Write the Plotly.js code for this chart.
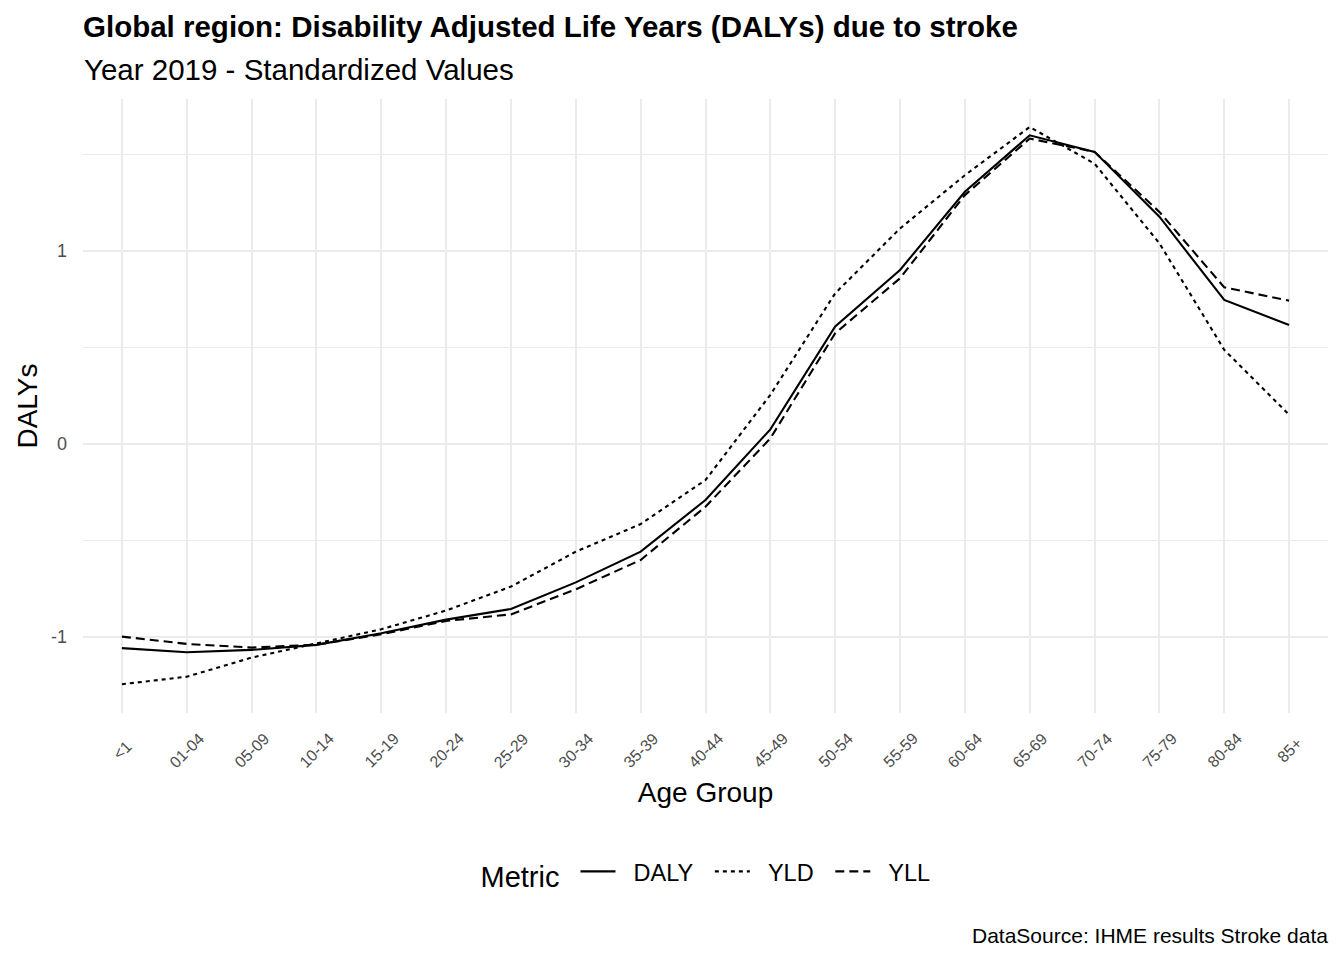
<!DOCTYPE html>
<html>
<head>
<meta charset="utf-8">
<script src="https://cdn.plot.ly/plotly-3.0.1.min.js"></script>
<style>html,body{margin:0;padding:0;background:#fff;}</style>
</head>
<body>
<div id="chart" style="width:1344px;height:960px;"></div>
<script>
const ageGroups = ["<1","01-04","05-09","10-14","15-19","20-24","25-29","30-34","35-39","40-44","45-49","50-54","55-59","60-64","65-69","70-74","75-79","80-84","85+"];
const daly = [-1.058,-1.079,-1.067,-1.041,-0.981,-0.910,-0.855,-0.717,-0.558,-0.290,0.076,0.609,0.902,1.307,1.600,1.514,1.178,0.747,0.617];
const yld  = [-1.245,-1.206,-1.107,-1.035,-0.960,-0.863,-0.739,-0.558,-0.415,-0.187,0.255,0.781,1.117,1.393,1.643,1.453,1.040,0.488,0.152];
const yll  = [-0.998,-1.036,-1.055,-1.040,-0.986,-0.917,-0.883,-0.753,-0.601,-0.325,0.029,0.574,0.859,1.290,1.583,1.514,1.203,0.812,0.743];
const metricNames = ["DALY", "YLD", "YLL"];
const yTicks = [-1,0,1];
const yTickText = ["-1","0","1"];

const FONT = "Liberation Sans, Arial, Helvetica, sans-serif";
const NB = "\u00A0";
const legendName = (n) => NB + NB + n + '<span style="font-size:21px">' + NB + NB + '</span>';
const mk = (name, y, dash) => ({
  type: "scatter", mode: "lines", name: legendName(name), x: ageGroups, y: y,
  line: {color: "#000000", width: 2.1, dash: dash}
});
const data = [mk(metricNames[0], daly, "solid"), mk(metricNames[1], yld, "4px,4px"), mk(metricNames[2], yll, "9px,5px")];

const tickAnnotations = ageGroups.map(g => ({
  text: g, x: g, xref: "x", y: 0, yref: "paper", yshift: -37,
  xanchor: "center", yanchor: "middle", textangle: -45, showarrow: false,
  font: {size: 16, color: "#4D4D4D", family: FONT}
}));

const layout = {
  width: 1344, height: 960, autosize: false,
  paper_bgcolor: "#ffffff", plot_bgcolor: "#ffffff",
  margin: {l: 83, r: 16, t: 99, b: 247},
  font: {family: FONT, color: "#000000"},
  title: {text: "<b>Global region: Disability Adjusted Life Years (DALYs) due to stroke</b>",
    x: 0, xref: "paper", xanchor: "left", y: 0.972, yref: "container", yanchor: "middle",
    font: {size: 29.5, family: FONT, color: "#000"}},
  xaxis: {type: "category", range: [-0.6, 18.6], showticklabels: false,
    showgrid: true, gridcolor: "#EBEBEB", gridwidth: 2, zeroline: false, showline: false,
    ticks: "",
    title: {text: "Age Group", font: {size: 28, color: "#000", family: FONT}, standoff: 69}},
  yaxis: {range: [-1.394, 1.788], tickvals: yTicks, ticktext: yTickText,
    tickfont: {size: 18, color: "#4D4D4D", family: FONT},
    showgrid: true, gridcolor: "#EBEBEB", gridwidth: 2, zeroline: false, showline: false,
    ticks: "", ticklabelstandoff: 15,
    minor: {tickvals: [-0.5, 0.5, 1.5], showgrid: true, gridcolor: "#EBEBEB", gridwidth: 1},
    title: {text: "DALYs", font: {size: 28, color: "#000", family: FONT}, standoff: 5}},
  showlegend: true,
  legend: {orientation: "h", x: 0.506, xanchor: "center", xref: "paper", y: 0.09, yref: "container", yanchor: "middle",
    title: {text: "Metric ", font: {size: 29, family: FONT, color: "#000"}, side: "left"},
    font: {size: 23.5, family: FONT, color: "#000"}, itemwidth: 35, tracegroupgap: 0},
  annotations: tickAnnotations.concat([
    {text: "Year 2019 - Standardized Values", xref: "paper", x: 0, xshift: -1, yref: "paper", y: 1, yshift: 30,
     xanchor: "left", yanchor: "middle", showarrow: false, font: {size: 29.5, family: FONT, color: "#000"}},
    {text: "DataSource: IHME results Stroke data", xref: "paper", x: 1, xshift: 2, yref: "paper", y: 0, yshift: -222,
     xanchor: "right", yanchor: "middle", showarrow: false, font: {size: 21, family: FONT, color: "#000"}}
  ])
};
Plotly.newPlot("chart", data, layout, {displayModeBar: false, responsive: false});
</script>
</body>
</html>
